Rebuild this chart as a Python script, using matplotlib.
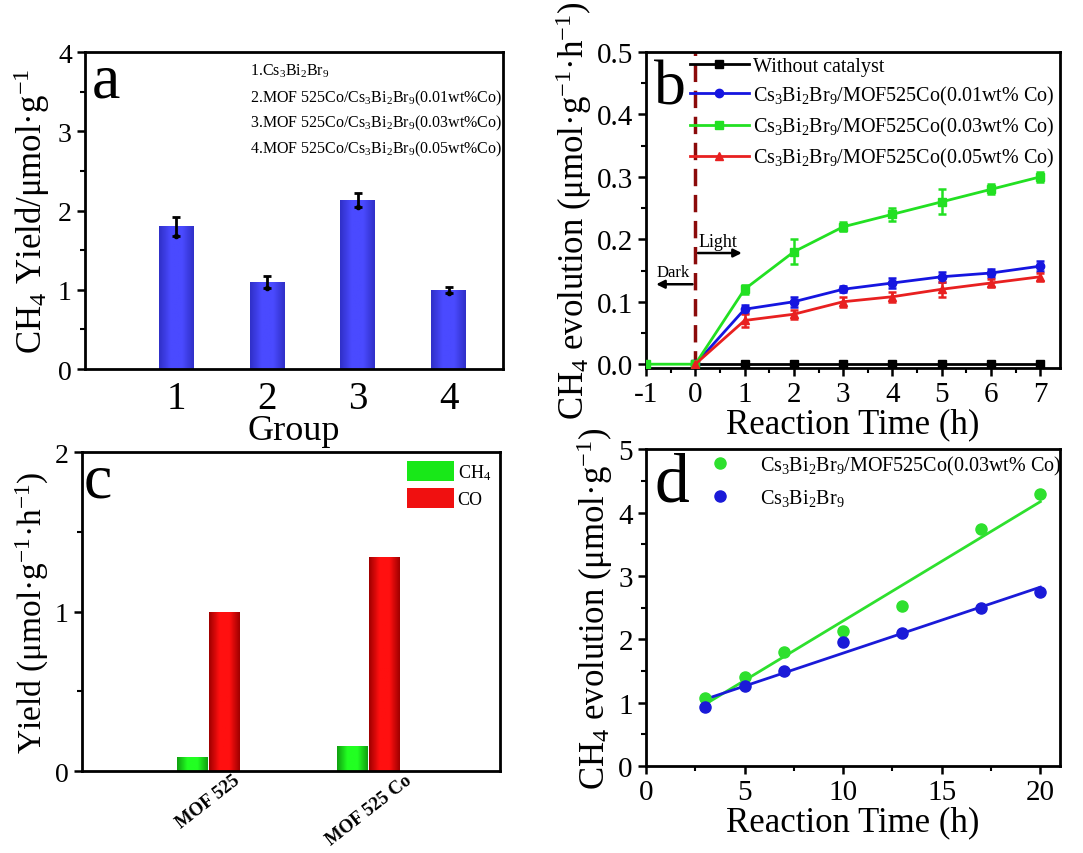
import numpy as np
import matplotlib
matplotlib.use("Agg")
import matplotlib.pyplot as plt
import matplotlib.transforms as mtransforms
from matplotlib.ticker import MultipleLocator
from matplotlib.colors import LinearSegmentedColormap

plt.rcParams['font.family'] = ['Liberation Serif', 'DejaVu Serif']
plt.rcParams['mathtext.fontset'] = 'custom'
plt.rcParams['mathtext.rm'] = 'Liberation Serif'
plt.rcParams['mathtext.it'] = 'Liberation Serif:italic'
plt.rcParams['axes.linewidth'] = 2.0
plt.rcParams['axes.unicode_minus'] = False

# ---------------- data ----------------
# panel a
groups_a = [1, 2, 3, 4]
yield_a = [1.80, 1.10, 2.13, 1.00]
err_a = [0.12, 0.08, 0.09, 0.04]
legend_a = [r"1.Cs$_3$Bi$_2$Br$_9$",
            r"2.MOF 525Co/Cs$_3$Bi$_2$Br$_9$(0.01wt%Co)",
            r"3.MOF 525Co/Cs$_3$Bi$_2$Br$_9$(0.03wt%Co)",
            r"4.MOF 525Co/Cs$_3$Bi$_2$Br$_9$(0.05wt%Co)"]

# panel b
t_none = [0, 1, 2, 3, 4, 5, 6, 7]
y_none = [0, 0, 0, 0, 0, 0, 0, 0]
t_b = [0, 1, 2, 3, 4, 5, 6, 7]
y_001 = [0.0, 0.088, 0.100, 0.120, 0.130, 0.140, 0.146, 0.157]
e_001 = [0.0, 0.006, 0.008, 0.005, 0.008, 0.008, 0.006, 0.008]
t_003 = [-1, 0, 1, 2, 3, 4, 5, 6, 7]
y_003 = [0.0, 0.0, 0.120, 0.180, 0.220, 0.240, 0.260, 0.280, 0.300]
e_003 = [0.0, 0.0, 0.007, 0.020, 0.007, 0.010, 0.020, 0.008, 0.008]
y_005 = [0.0, 0.070, 0.080, 0.100, 0.108, 0.120, 0.130, 0.140]
e_005 = [0.0, 0.010, 0.007, 0.008, 0.008, 0.012, 0.006, 0.006]
labels_b = ["Without catalyst",
            r"Cs$_3$Bi$_2$Br$_9$/MOF525Co(0.01wt% Co)",
            r"Cs$_3$Bi$_2$Br$_9$/MOF525Co(0.03wt% Co)",
            r"Cs$_3$Bi$_2$Br$_9$/MOF525Co(0.05wt% Co)"]

# panel c
cats_c = ["MOF 525", "MOF 525 Co"]
ch4_c = [0.088, 0.157]
co_c = [1.00, 1.34]

# panel d
t_d = [3, 5, 7, 10, 13, 17, 20]
y_d_003 = [1.08, 1.40, 1.80, 2.13, 2.52, 3.74, 4.30]
y_d_csbb = [0.93, 1.26, 1.50, 1.95, 2.10, 2.50, 2.75]
labels_d = [r"Cs$_3$Bi$_2$Br$_9$/MOF525Co(0.03wt% Co)", r"Cs$_3$Bi$_2$Br$_9$"]

# ---------------- helpers ----------------
def shade_bars(ax, bars, dark, light):
    cmap = LinearSegmentedColormap.from_list("g", [dark, light, light, dark])
    grad = np.linspace(0, 1, 64).reshape(1, -1)
    for b in bars:
        x0, y0 = b.get_x(), b.get_y()
        w, h = b.get_width(), b.get_height()
        im = ax.imshow(grad, cmap=cmap, aspect='auto', extent=(x0, x0 + w, y0, y0 + h),
                       zorder=b.get_zorder() + 0.1, interpolation='bilinear')
        im.set_clip_path(b)

def style(ax):
    for s in ax.spines.values():
        s.set_linewidth(2.0)
    ax.tick_params(which='major', direction='out', length=6, width=1.8)
    ax.tick_params(which='minor', direction='out', length=3.5, width=1.5)

# ---------------- figure ----------------
fig = plt.figure(figsize=(10.83, 8.54), dpi=100)

# ---- a ----
axa = fig.add_axes([0.0785, 0.5667, 0.386, 0.371])
bars_a = axa.bar(groups_a, yield_a, width=0.38, color='#4646f2', edgecolor='none')
shade_bars(axa, bars_a, '#3030c8', '#4a4aff')
axa.errorbar(groups_a, yield_a, yerr=err_a, fmt='none', ecolor='black', elinewidth=2,
             capsize=3, capthick=2, zorder=5)
axa.plot(groups_a, [y - e for y, e in zip(yield_a, err_a)], 'o', color='black', ms=3, zorder=5)
axa.set_xlim(0, 4.6)
axa.set_ylim(0, 4)
axa.set_xticks(groups_a)
axa.set_yticks([0, 1, 2, 3, 4])
axa.yaxis.set_minor_locator(MultipleLocator(0.5))
style(axa)
axa.tick_params(axis='x', which='both', length=0, labelsize=28, pad=8)
axa.tick_params(axis='y', labelsize=20)
axa.set_xlabel("Group", fontsize=26, labelpad=-2)
axa.set_ylabel(r"CH$_4$ Yield/μmol·g$^{-1}$", fontsize=25, labelpad=4)
axa.text(0.015, 1.0, "a", transform=axa.transAxes, fontsize=46, va='top', ha='left')
for i, t in enumerate(legend_a):
    axa.text(0.395, 0.97 - i * 0.081, t, transform=axa.transAxes, fontsize=11.5,
             va='top', ha='left')

# ---- b ----
axb = fig.add_axes([0.5965, 0.568, 0.3823, 0.370])
axb.axvline(0, color='#8b0a0a', lw=2.5, ls=(0, (5, 2.5)), zorder=1)
l0, = axb.plot(t_none, y_none, '-s', color='black', lw=2, ms=6, zorder=3)
c1 = axb.errorbar(t_b, y_001, yerr=e_001, fmt='-o', color='#1515e0', lw=2, ms=6, capsize=3,
                  capthick=1.8, elinewidth=1.8, zorder=4)
c2 = axb.errorbar(t_003, y_003, yerr=e_003, fmt='-s', color='#22e022', lw=2, ms=6, capsize=3,
                  capthick=1.8, elinewidth=1.8, zorder=4)
c3 = axb.errorbar(t_b, y_005, yerr=e_005, fmt='-^', color='#e82020', lw=2, ms=6, capsize=3,
                  capthick=1.8, elinewidth=1.8, zorder=4)
axb.set_xlim(-1, 7.4)
axb.set_ylim(-0.006, 0.5)
axb.set_xticks(range(-1, 8))
axb.set_yticks([0.0, 0.1, 0.2, 0.3, 0.4, 0.5])
axb.xaxis.set_minor_locator(MultipleLocator(0.5))
axb.yaxis.set_minor_locator(MultipleLocator(0.05))
style(axb)
axb.tick_params(labelsize=21)
axb.set_xlabel("Reaction Time (h)", fontsize=25, labelpad=0)
axb.set_ylabel(r"CH$_4$ evolution (μmol·g$^{-1}$·h$^{-1}$)", fontsize=25, labelpad=2)
axb.text(0.02, 0.975, "b", transform=axb.transAxes, fontsize=46, va='top', ha='left')
axb.annotate("", xy=(-0.85, 0.128), xytext=(0, 0.128),
             arrowprops=dict(arrowstyle='-|>', color='black', lw=1.8, mutation_scale=12))
axb.text(-0.45, 0.135, "Dark", fontsize=12, ha='center', va='bottom')
axb.annotate("", xy=(1.0, 0.178), xytext=(0, 0.178),
             arrowprops=dict(arrowstyle='-|>', color='black', lw=1.8, mutation_scale=12))
axb.text(0.07, 0.183, "Light", fontsize=13, ha='left', va='bottom')
axb.legend(handles=[l0, c1[0], c2[0], c3[0]], labels=labels_b, loc='upper right',
           bbox_to_anchor=(1.005, 1.01), frameon=False, fontsize=14.5,
           handlelength=2.9, handletextpad=0.2, labelspacing=0.4, borderaxespad=0.2,
           borderpad=0.2)

# ---- c ----
axc = fig.add_axes([0.0757, 0.096, 0.386, 0.3735])
xc = np.arange(1, len(cats_c) + 1)
bg = axc.bar(xc - 0.1, ch4_c, width=0.19, color='#18e818', edgecolor='none', label=r"CH$_4$")
br = axc.bar(xc + 0.1, co_c, width=0.19, color='#f01010', edgecolor='none', label="CO")
shade_bars(axc, bg, '#10a010', '#22ff22')
shade_bars(axc, br, '#a00000', '#ff1010')
axc.set_xlim(0.21, 2.82)
axc.set_ylim(0, 2)
axc.set_xticks(xc)
axc.set_xticklabels(cats_c, rotation=38, ha='center', fontweight='bold', fontsize=13.5)
shift = mtransforms.ScaledTranslation(-12 / 100, 0, fig.dpi_scale_trans)
for lab in axc.get_xticklabels():
    lab.set_transform(lab.get_transform() + shift)
axc.set_yticks([0, 1, 2])
axc.yaxis.set_minor_locator(MultipleLocator(0.5))
style(axc)
axc.tick_params(axis='x', which='both', length=0, pad=0)
axc.tick_params(axis='y', labelsize=20)
axc.set_ylabel(r"Yield (μmol·g$^{-1}$·h$^{-1}$)", fontsize=24, labelpad=3)
axc.text(0.005, 1.0, "c", transform=axc.transAxes, fontsize=46, va='top', ha='left')
leg_c = axc.legend(loc='upper right', frameon=False, fontsize=13, handlelength=2.6,
                   handleheight=1.3, handletextpad=0.2, labelspacing=0.35, borderaxespad=0.1)

# ---- d ----
axd = fig.add_axes([0.5965, 0.1019, 0.3823, 0.371])
for yv, col, lab in [(y_d_003, '#2ee02e', labels_d[0]), (y_d_csbb, '#1a1ad8', labels_d[1])]:
    p = np.polyfit(t_d, yv, 1)
    axd.plot(t_d, yv, 'o', color=col, ms=8, label=lab, zorder=3)
    xx = np.array([t_d[0], t_d[-1]])
    axd.plot(xx, np.polyval(p, xx), '-', color=col, lw=2, zorder=2)
axd.set_xlim(0, 21)
axd.set_ylim(0, 5)
axd.set_xticks([0, 5, 10, 15, 20])
axd.set_yticks([0, 1, 2, 3, 4, 5])
axd.xaxis.set_minor_locator(MultipleLocator(2.5))
axd.yaxis.set_minor_locator(MultipleLocator(0.5))
style(axd)
axd.tick_params(labelsize=21)
axd.set_xlabel("Reaction Time (h)", fontsize=25, labelpad=0)
axd.set_ylabel(r"CH$_4$ evolution (μmol·g$^{-1}$)", fontsize=25, labelpad=2)
axd.text(0.02, 0.99, "d", transform=axd.transAxes, fontsize=50, va='top', ha='left')
axd.legend(loc='upper left', bbox_to_anchor=(0.11, 1.01), frameon=False, fontsize=14.5,
           handletextpad=1.0, labelspacing=0.5, borderaxespad=0.2, borderpad=0.2)

fig.savefig("out.png", dpi=100)
